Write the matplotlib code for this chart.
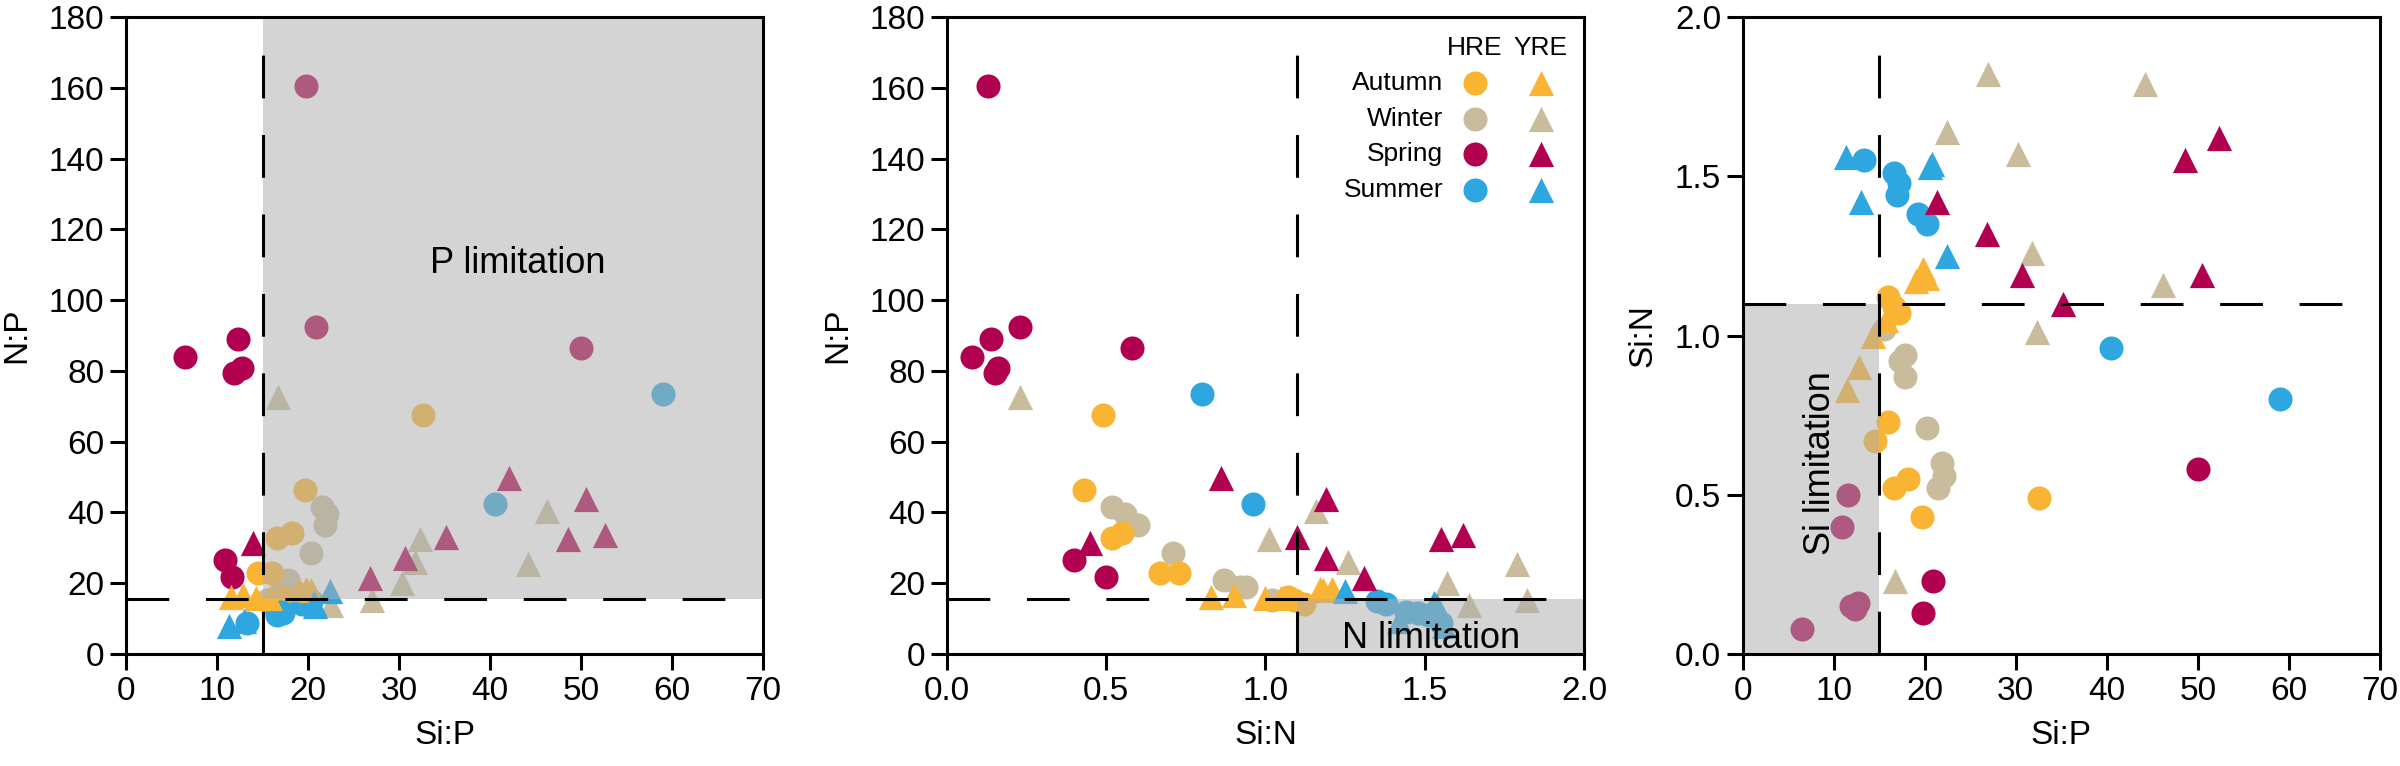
import matplotlib
matplotlib.use('Agg')
import matplotlib.pyplot as plt
from matplotlib.patches import Rectangle
from matplotlib.ticker import FormatStrFormatter, MultipleLocator

plt.rcParams['font.family'] = ['Liberation Sans', 'DejaVu Sans']

# ---------------- data (Si:P, N:P, Si:N per sample) ----------------
hre_autumn_sip = [19.7, 16.6, 18.2, 14.5, 16.0, 32.6, 16.0, 16.6, 17.2]
hre_autumn_np = [46.3, 32.7, 34.1, 22.8, 22.8, 67.5, 14.2, 15.2, 16.2]
hre_autumn_sin = [0.43, 0.52, 0.55, 0.67, 0.73, 0.49, 1.12, 1.09, 1.07]

hre_winter_sip = [21.5, 22.1, 21.9, 20.3, 17.8, 17.8, 17.3, 15.5]
hre_winter_np = [41.6, 39.7, 36.4, 28.6, 20.9, 19.0, 18.8, 15.2]
hre_winter_sin = [0.52, 0.56, 0.60, 0.71, 0.87, 0.94, 0.92, 1.02]

hre_spring_sip = [6.5, 11.9, 12.7, 12.3, 10.9, 11.6, 19.8, 20.9, 50.0]
hre_spring_np = [84.0, 79.3, 80.7, 89.0, 26.6, 21.9, 160.5, 92.3, 86.5]
hre_spring_sin = [0.08, 0.15, 0.16, 0.14, 0.40, 0.50, 0.13, 0.23, 0.58]

hre_summer_sip = [13.3, 16.6, 17.2, 17.0, 19.3, 20.3, 40.5, 59.0]
hre_summer_np = [8.7, 11.0, 11.6, 12.0, 14.0, 15.0, 42.5, 73.5]
hre_summer_sin = [1.55, 1.51, 1.48, 1.44, 1.38, 1.35, 0.96, 0.80]

yre_autumn_sip = [11.5, 12.8, 14.3, 15.8, 19.0, 19.8, 20.3]
yre_autumn_np = [16.0, 16.8, 15.7, 15.7, 18.5, 18.5, 18.0]
yre_autumn_sin = [0.83, 0.90, 1.00, 1.05, 1.17, 1.21, 1.18]

yre_winter_sip = [16.7, 27.0, 30.3, 31.8, 32.3, 44.2, 46.2, 22.5]
yre_winter_np = [72.7, 15.2, 20.2, 26.0, 32.5, 25.5, 40.5, 13.8]
yre_winter_sin = [0.23, 1.82, 1.57, 1.26, 1.01, 1.79, 1.16, 1.64]

yre_spring_sip = [13.9, 26.8, 30.7, 35.2, 42.1, 48.6, 50.5, 52.6]
yre_spring_np = [31.5, 21.4, 27.0, 33.2, 49.6, 32.4, 43.7, 33.6]
yre_spring_sin = [0.45, 1.31, 1.19, 1.10, 0.86, 1.55, 1.19, 1.62]
# YRE spring as read from the Si:P vs Si:N panel
yre_spring_p3_sip = [21.4, 26.8, 30.7, 35.2, 48.6, 50.5, 52.3]
yre_spring_p3_sin = [1.42, 1.32, 1.19, 1.10, 1.55, 1.19, 1.62]

yre_summer_sip = [11.3, 13.0, 20.8, 20.6, 22.4]
yre_summer_np = [7.8, 9.2, 13.5, 14.5, 17.9]
yre_summer_sin = [1.56, 1.42, 1.54, 1.53, 1.25]

seasons = ['Autumn', 'Winter', 'Spring', 'Summer']
colors = {'Autumn': '#F8B432', 'Winter': '#C9BC9C',
          'Spring': '#B0004F', 'Summer': '#2EA6DF'}
markers = {'HRE': 'o', 'YRE': '^'}
sizes = {'HRE': 300, 'YRE': 330}

groups = [
    ('HRE', 'Winter', hre_winter_sip, hre_winter_np, hre_winter_sin, hre_winter_sip, hre_winter_sin),
    ('HRE', 'Autumn', hre_autumn_sip, hre_autumn_np, hre_autumn_sin, hre_autumn_sip, hre_autumn_sin),
    ('HRE', 'Spring', hre_spring_sip, hre_spring_np, hre_spring_sin, hre_spring_sip, hre_spring_sin),
    ('HRE', 'Summer', hre_summer_sip, hre_summer_np, hre_summer_sin, hre_summer_sip, hre_summer_sin),
    ('YRE', 'Winter', yre_winter_sip, yre_winter_np, yre_winter_sin, yre_winter_sip, yre_winter_sin),
    ('YRE', 'Autumn', yre_autumn_sip, yre_autumn_np, yre_autumn_sin, yre_autumn_sip, yre_autumn_sin),
    ('YRE', 'Summer', yre_summer_sip, yre_summer_np, yre_summer_sin, yre_summer_sip, yre_summer_sin),
    ('YRE', 'Spring', yre_spring_sip, yre_spring_np, yre_spring_sin, yre_spring_p3_sip, yre_spring_p3_sin),
]

# thresholds
sip_thr = 15
np_thr = 15.5
sin_thr = 1.1

fig = plt.figure(figsize=(24, 7.66), dpi=100)
W, H, B = 0.2655, 0.8316, 0.1462
ax1 = fig.add_axes([0.0525, B, W, H])
ax2 = fig.add_axes([0.3945, B, W, H])
ax3 = fig.add_axes([0.7261, B, W, H])

overlay = dict(facecolor=(174/255, 174/255, 174/255), alpha=0.52, lw=0, zorder=3)
dash = dict(color='black', lw=2.2, ls=(0, (14, 12)), zorder=4)

for est, season, sip, npv, sin, p3x, p3y in groups:
    kw = dict(c=colors[season], marker=markers[est], s=sizes[est], linewidths=0, zorder=2)
    ax1.scatter(sip, npv, **kw)
    ax2.scatter(sin, npv, **kw)
    ax3.scatter(p3x, p3y, **kw)

# panel 1
ax1.set_xlim(0, 70); ax1.set_ylim(0, 180)
ax1.add_patch(Rectangle((sip_thr, np_thr), 70 - sip_thr, 180 - np_thr, **overlay))
ax1.axvline(sip_thr, **dash); ax1.axhline(np_thr, **dash)
ax1.text(33.4, 107.8, 'P limitation', fontsize=26, ha='left', va='baseline', zorder=5)
ax1.xaxis.set_major_locator(MultipleLocator(10))
ax1.yaxis.set_major_locator(MultipleLocator(20))
ax1.set_xlabel('Si:P', fontsize=24, labelpad=10)
ax1.set_ylabel('N:P', fontsize=24, labelpad=12)

# panel 2
ax2.set_xlim(0, 2.0); ax2.set_ylim(0, 180)
ax2.add_patch(Rectangle((sin_thr, 0), 2.0 - sin_thr, np_thr, **overlay))
ax2.axvline(sin_thr, **dash); ax2.axhline(np_thr, **dash)
ax2.text(1.24, 1.6, 'N limitation', fontsize=26, ha='left', va='baseline', zorder=5)
ax2.xaxis.set_major_locator(MultipleLocator(0.5))
ax2.xaxis.set_major_formatter(FormatStrFormatter('%.1f'))
ax2.yaxis.set_major_locator(MultipleLocator(20))
ax2.set_xlabel('Si:N', fontsize=24, labelpad=10)
ax2.set_ylabel('N:P', fontsize=24, labelpad=12)

# legend (manual grid)
tr = ax2.transAxes
ax2.text(0.829, 0.951, 'HRE', transform=tr, fontsize=19, ha='center', va='center')
ax2.text(0.932, 0.951, 'YRE', transform=tr, fontsize=19, ha='center', va='center')
rows_y = [0.897, 0.840, 0.785, 0.728]
for season, yy in zip(seasons, rows_y):
    ax2.text(0.779, yy, season, transform=tr, fontsize=19, ha='right', va='center')
    ax2.scatter([0.829], [yy], transform=tr, c=colors[season], marker='o', s=300,
                linewidths=0, zorder=6, clip_on=False)
    ax2.scatter([0.933], [yy], transform=tr, c=colors[season], marker='^', s=330,
                linewidths=0, zorder=6, clip_on=False)

# panel 3
ax3.set_xlim(0, 70); ax3.set_ylim(0, 2.0)
ax3.add_patch(Rectangle((0, 0), sip_thr, sin_thr, **overlay))
ax3.axvline(sip_thr, **dash); ax3.axhline(sin_thr, **dash)
ax3.text(8.6, 0.6, 'Si limitation', fontsize=26, rotation=90, ha='center', va='center', zorder=5)
ax3.xaxis.set_major_locator(MultipleLocator(10))
ax3.yaxis.set_major_locator(MultipleLocator(0.5))
ax3.yaxis.set_major_formatter(FormatStrFormatter('%.1f'))
ax3.set_xlabel('Si:P', fontsize=24, labelpad=10)
ax3.set_ylabel('Si:N', fontsize=24, labelpad=12)

for ax in (ax1, ax2, ax3):
    for sp in ax.spines.values():
        sp.set_linewidth(2.2)
        sp.set_zorder(7)
    ax.tick_params(axis='both', which='major', direction='out', length=11.5, width=2.2,
                   labelsize=24, pad=4, top=False, right=False)

fig.savefig('out.png', dpi=100)
